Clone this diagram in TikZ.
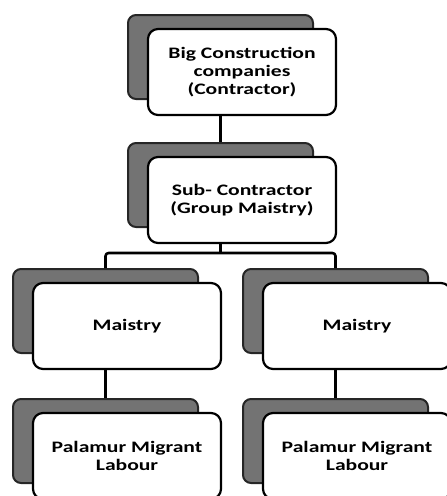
\documentclass[tikz,border=0pt]{standalone}
\usepackage{fontspec}
\setmainfont{Carlito}[FakeStretch=1.35]

\begin{document}
\begin{tikzpicture}[x=1pt, y=-1pt, line join=round,
  card/.style={draw=black, line width=2.2pt, fill=white, rounded corners=10pt, minimum width=188pt, minimum height=86pt, inner sep=2pt, align=center, font=\fontsize{16}{18}\selectfont\bfseries},
  backcard/.style={draw=black!85, line width=2pt, fill=black!55, rounded corners=8pt, minimum width=185pt, minimum height=84pt, inner sep=0pt},
  link/.style={draw=black, line width=2.6pt, rounded corners=3pt}]
\useasboundingbox (0,0) rectangle (447,496);
% shadow cards first, then the white cards
\node[backcard] (topb) at (220.5,57) {};
\node[card] (top) at (242,72) {Big Construction\\companies\\(Contractor)};
\node[backcard] (subb) at (220.5,185) {};
\node[card] (sub) at (242,200) {Sub- Contractor\\(Group Maistry)};
\node[backcard] (mLb) at (105.5,311) {};
\node[card] (mL) at (127,326) {Maistry};
\node[backcard] (mRb) at (335.5,311) {};
\node[card] (mR) at (357,326) {Maistry};
\node[backcard] (pLb) at (105.5,441) {};
\node[card] (pL) at (127,456) {Palamur Migrant\\Labour};
\node[backcard] (pRb) at (335.5,441) {};
\node[card] (pR) at (357,456) {Palamur Migrant\\Labour};
\coordinate (bus) at (220.5,253);
% connectors
\draw[link] (topb.center |- top.south) -- (subb.north);
\draw[link] (subb.center |- sub.south) -- (bus);
\draw[link] (mLb.north) -- (mLb.north |- bus) -- (mRb.north |- bus) -- (mRb.north);
\draw[link] (mLb.center |- mL.south) -- (pLb.north);
\draw[link] (mRb.center |- mR.south) -- (pRb.north);
\end{tikzpicture}
\end{document}
